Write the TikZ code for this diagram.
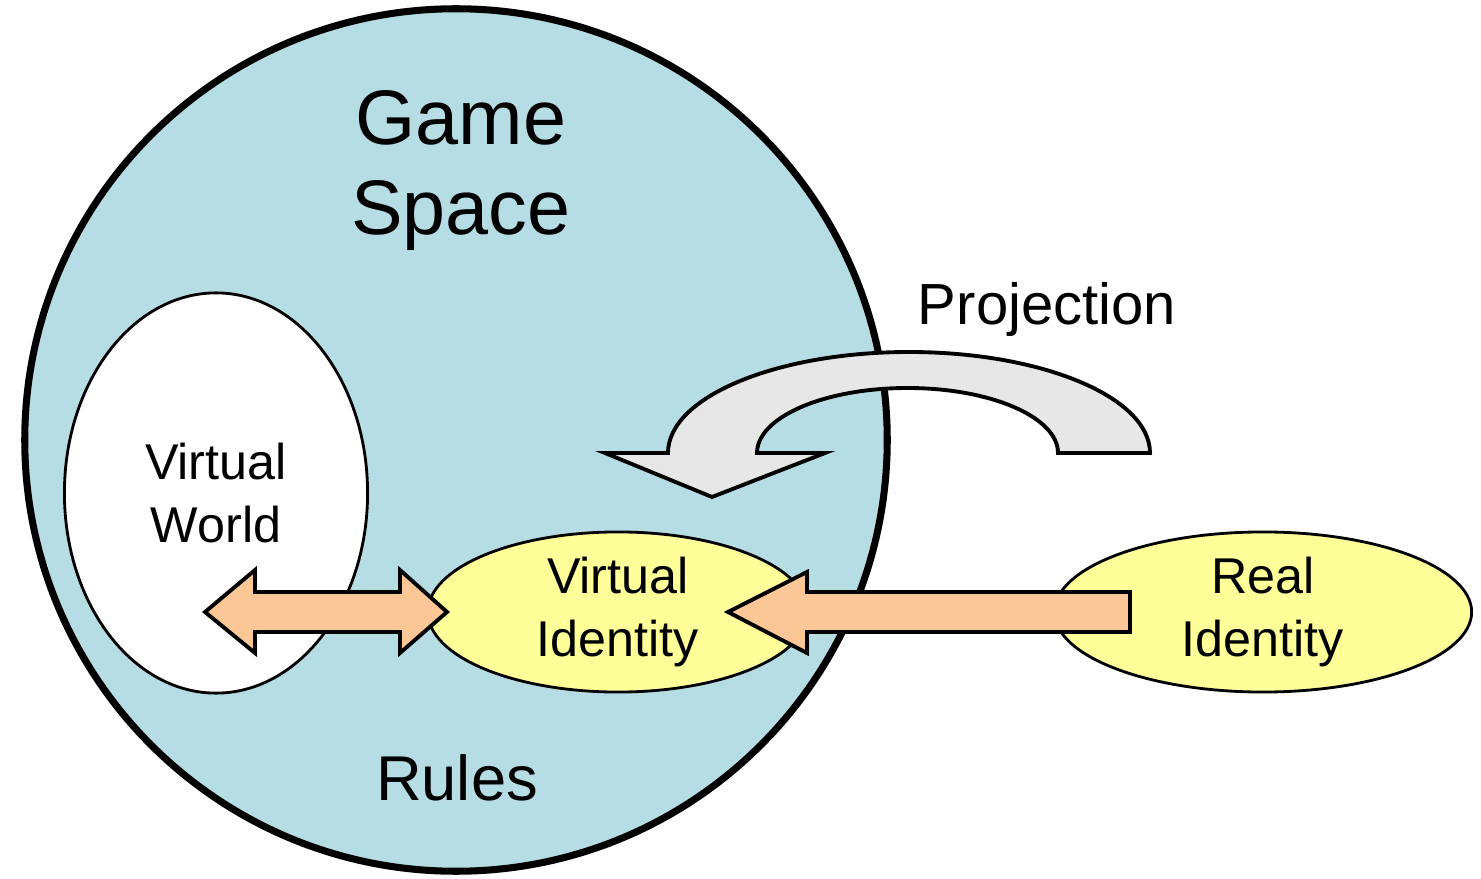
\documentclass[tikz,border=0pt]{standalone}
\usepackage{fontspec}
\setmainfont{Liberation Sans}
\usetikzlibrary{shapes.geometric}
\usetikzlibrary{calc}
\definecolor{spaceblue}{RGB}{182,221,227}
\definecolor{idyellow}{RGB}{255,255,153}
\definecolor{flowpeach}{RGB}{252,199,150}
\definecolor{projgray}{RGB}{231,231,231}
\tikzstyle{space}=[draw, circle, line width=2pt, fill=spaceblue, inner sep=0pt, minimum size=8.62cm]
\tikzstyle{blob}=[draw, ellipse, line width=0.8pt, inner sep=0pt, align=center, font=\fontsize{14.3}{17.9}\selectfont]
\tikzstyle{world}=[blob, fill=white, minimum width=3.03cm, minimum height=4.00cm]
\tikzstyle{identity}=[blob, fill=idyellow, minimum height=1.60cm]
\tikzstyle{flow}=[draw, line width=1.1pt, fill=flowpeach, line join=miter]
\tikzstyle{projection}=[draw, line width=1.1pt, fill=projgray, line join=miter]
\tikzstyle{caption}=[align=center, inner sep=0pt]

\begin{document}
\begin{tikzpicture}[x=0.01cm, y=-0.01cm]
        \useasboundingbox (0, 0) rectangle (1481, 879);
        \node[space]                           (S)  at (456, 440) {};
        \node[world]                           (W)  at (216, 493) {Virtual\\World};
        \node[identity, minimum width=3.80cm]  (VI) at (618, 612) {Virtual\\Identity};
        \node[identity, minimum width=4.17cm]  (RI) at (1263, 612) {Real\\Identity};
        \coordinate (Ptail) at (1150, 453);
        \coordinate (Ptip)  at (712, 497);
        \draw[projection] (Ptail) arc[start angle=0, end angle=-180, x radius=241, y radius=101]
            -- (605, 453) -- (Ptip) -- (825, 453) -- (757, 453)
            arc[start angle=180, end angle=360, x radius=150.5, y radius=65] -- cycle;
        \coordinate (Wtip)  at (205, 612);
        \coordinate (VItip) at (447, 612);
        \draw[flow] (Wtip) -- ++(50, -42) -- ++(0, 22) -- ++(145, 0) -- ++(0, -22) -- (VItip)
            -- ++(-47, 41) -- ++(0, -21) -- ++(-145, 0) -- ++(0, 21) -- cycle;
        \coordinate (RItail) at (1130, 612);
        \coordinate (VIend)  at (728, 612);
        \draw[flow] (VIend) -- ++(79, -40) -- ++(0, 20) -- ($(RItail)+(0,-20)$) -- ($(RItail)+(0,20)$)
            -- ++(-323, 0) -- ++(0, 21) -- cycle;
        \node[caption, font=\fontsize{22}{25.6}\selectfont] (G) at (461, 171) {Game\\Space};
        \node[caption, font=\fontsize{16.5}{19}\selectfont] (P) at (1047, 309) {Projection};
        \node[caption, font=\fontsize{18}{21}\selectfont]   (R) at (457, 778) {Rules};
    \end{tikzpicture}
\end{document}
